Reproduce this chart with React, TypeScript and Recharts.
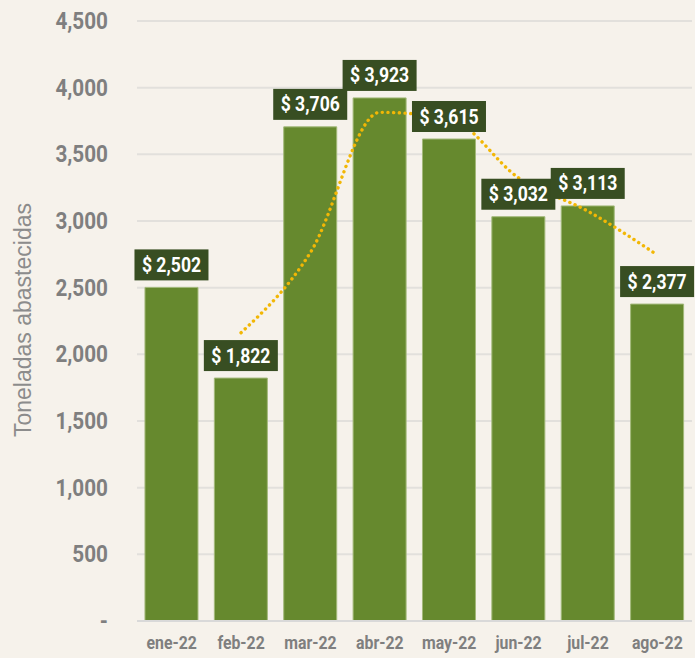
import React from "react";
import {
  ComposedChart,
  Bar,
  Line,
  XAxis,
  YAxis,
  CartesianGrid,
  LabelList,
} from "recharts";

const months = ["ene-22", "feb-22", "mar-22", "abr-22", "may-22", "jun-22", "jul-22", "ago-22"];
const tons = [2502, 1822, 3706, 3923, 3615, 3032, 3113, 2377];
// dotted trend line (no point for ene-22)
const trend = [null, 2162, 2764, 3815, 3769, 3324, 3073, 2745];
const yTicks = [0, 500, 1000, 1500, 2000, 2500, 3000, 3500, 4000, 4500];

const data = months.map((m, i) => ({ month: m, tons: tons[i], trend: trend[i] }));

const BG = "#f6f2eb";
const GRAY = "#7f7f7f";
const FONT = "Roboto, 'Liberation Sans', sans-serif";

const fmtTick = (v: number) => (v === 0 ? "-" : v.toLocaleString("en-US"));

// narrow-looking text: squeeze horizontally around the anchor point
const Narrow: React.FC<any> = ({ x, y, sx, anchor, size, fill, children }) => (
  <text
    transform={`translate(${x} ${y}) scale(${sx} 1)`}
    textAnchor={anchor}
    fill={fill}
    fontFamily={FONT}
    fontWeight="bold"
    fontSize={size}
  >
    {children}
  </text>
);

const YTick: React.FC<any> = ({ x, y, payload }) => (
  <Narrow x={x} y={y + 8} sx={0.9} anchor="end" size={23} fill={GRAY}>
    {fmtTick(payload.value)}
  </Narrow>
);

const XTick: React.FC<any> = ({ x, y, payload }) => (
  <Narrow x={x} y={y + 12} sx={0.88} anchor="middle" size={18} fill={GRAY}>
    {payload.value}
  </Narrow>
);

const ValueTag: React.FC<any> = ({ x, y, width, value }) => {
  const w = 74;
  const h = 31;
  const cx = x + width / 2;
  const top = y - 7 - h;
  return (
    <g>
      <rect x={cx - w / 2} y={top} width={w} height={h} fill="#384e22" />
      <Narrow x={cx} y={top + h / 2 + 7} sx={0.88} anchor="middle" size={20} fill="#ffffff">
        {"$ " + Number(value).toLocaleString("en-US")}
      </Narrow>
    </g>
  );
};

export default function App() {
  return (
    <div style={{ position: "absolute", left: 0, top: 0, width: 695, height: 658, background: BG }}>
      <ComposedChart
        width={695}
        height={658}
        data={data}
        margin={{ top: 21, right: 3, bottom: 7, left: 0 }}
        barCategoryGap="11.5%"
      >
        <CartesianGrid horizontal vertical={false} stroke="#e2e0dc" strokeWidth={2} />
        <XAxis
          dataKey="month"
          height={30}
          axisLine={{ stroke: "#d9d9d9", strokeWidth: 2 }}
          tickLine={false}
          tickSize={0}
          tickMargin={16}
          tick={<XTick />}
        />
        <YAxis
          width={137}
          domain={[0, 4500]}
          ticks={yTicks}
          axisLine={false}
          tickLine={false}
          tickSize={0}
          tickMargin={29}
          tick={<YTick />}
          label={{
            content: () => (
              <text
                x={23}
                y={320}
                transform="rotate(-90 23 320)"
                textAnchor="middle"
                dominantBaseline="central"
                fill="#8c8c8c"
                fontSize={23}
                fontFamily="'Liberation Sans', Arial, sans-serif"
              >
                Toneladas abastecidas
              </text>
            ),
          }}
        />
        <Bar dataKey="tons" fill="#66892e" stroke="#a3b97a" strokeWidth={1} isAnimationActive={false}>
          <LabelList dataKey="tons" content={<ValueTag />} />
        </Bar>
        <Line
          type="monotone"
          dataKey="trend"
          stroke="#f2b705"
          strokeWidth={3.4}
          strokeDasharray="0.1 5.6"
          strokeLinecap="round"
          dot={false}
          activeDot={false}
          isAnimationActive={false}
        />
      </ComposedChart>
    </div>
  );
}
